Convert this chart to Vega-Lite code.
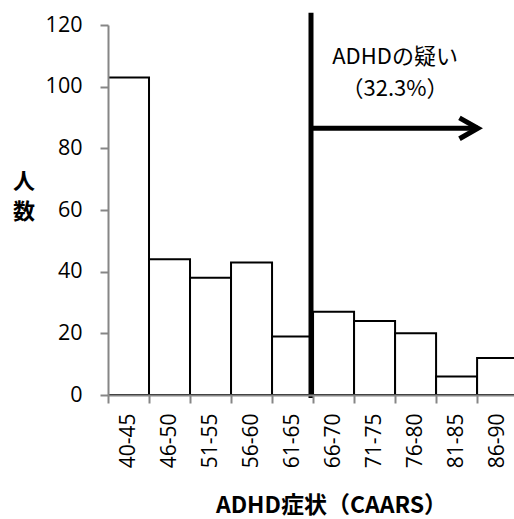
{
  "$schema": "https://vega.github.io/schema/vega-lite/v6.json",
  "width": 406,
  "height": 370,
  "autosize": "none",
  "padding": {"left": 108, "top": 25, "right": 0, "bottom": 124},
  "background": "white",
  "config": {"view": {"stroke": null}, "font": "Open Sans"},
  "datasets": {
    "bins": [
      {"bin": "40-45", "lo": 40.5, "hi": 45.5, "n": 103},
      {"bin": "46-50", "lo": 45.5, "hi": 50.5, "n": 44},
      {"bin": "51-55", "lo": 50.5, "hi": 55.5, "n": 38},
      {"bin": "56-60", "lo": 55.5, "hi": 60.5, "n": 43},
      {"bin": "61-65", "lo": 60.5, "hi": 65.5, "n": 19},
      {"bin": "66-70", "lo": 65.5, "hi": 70.5, "n": 27},
      {"bin": "71-75", "lo": 70.5, "hi": 75.5, "n": 24},
      {"bin": "76-80", "lo": 75.5, "hi": 80.5, "n": 20},
      {"bin": "81-85", "lo": 80.5, "hi": 85.5, "n": 6},
      {"bin": "86-90", "lo": 85.5, "hi": 90.5, "n": 12}
    ],
    "cutoff": [
      {"score": 65.25, "from": -1, "to": 124}
    ],
    "arrow": [
      {"part": "shaft", "k": 0, "score": 65.25, "level": 86.5},
      {"part": "shaft", "k": 1, "score": 85.6, "level": 86.5},
      {"part": "head", "k": 0, "score": 83.35, "level": 89.9},
      {"part": "head", "k": 1, "score": 85.6, "level": 86.5},
      {"part": "head", "k": 2, "score": 83.35, "level": 83.1}
    ],
    "notes": [
      {"text": "ADHDの疑い", "score": 75.5, "level": 109.5},
      {"text": "（32.3%）", "score": 75.5, "level": 99.3}
    ]
  },
  "layer": [
    {
      "data": {"name": "bins"},
      "mark": {"type": "rect", "fill": "white", "stroke": "black", "strokeWidth": 2, "clip": true},
      "encoding": {
        "x": {
          "field": "lo",
          "type": "quantitative",
          "scale": {"domain": [40.5, 90], "nice": false, "zero": false},
          "axis": {
            "values": [40.5, 45.5, 50.5, 55.5, 60.5, 65.5, 70.5, 75.5, 80.5, 85.5],
            "labelExpr": "datum.value < 41 ? '40-45' : (datum.value + 0.5) + '-' + (datum.value + 4.5)",
            "labelAngle": 270,
            "labelAlign": "right",
            "labelBaseline": "middle",
            "labelOffset": 20.5,
            "labelPadding": 10,
            "labelFlush": false,
            "labelOverlap": false,
            "labelFont": "Open Sans",
            "labelFontSize": 21,
            "labelColor": "black",
            "tickSize": 8,
            "tickWidth": 2,
            "tickColor": "#868686",
            "domainWidth": 2,
            "domainColor": "#868686",
            "grid": false,
            "title": "ADHD症状（CAARS）",
            "titleFont": "Noto Sans CJK JP",
            "titleFontSize": 23,
            "titleFontWeight": "bold",
            "titleColor": "black",
            "titleAlign": "center",
            "titleBaseline": "alphabetic",
            "titleX": 223,
            "titleY": 117,
            "zindex": 1
          }
        },
        "x2": {"field": "hi"},
        "y": {
          "field": "n",
          "type": "quantitative",
          "scale": {"domain": [0, 120], "nice": false},
          "axis": {
            "values": [0, 20, 40, 60, 80, 100, 120],
            "labelFont": "Open Sans",
            "labelFontSize": 21.5,
            "labelColor": "black",
            "labelPadding": 18,
            "tickSize": 8,
            "tickWidth": 2,
            "tickColor": "#868686",
            "domainWidth": 2,
            "domainColor": "#868686",
            "grid": false,
            "title": ["人", "数"],
            "titleFont": "Noto Sans CJK JP",
            "titleFontSize": 22,
            "titleFontWeight": "bold",
            "titleColor": "black",
            "titleAngle": 0,
            "titleAlign": "center",
            "titleBaseline": "middle",
            "titleLineHeight": 30,
            "titleX": -84.5,
            "titleY": 156,
            "zindex": 1
          }
        },
        "y2": {"datum": 0}
      }
    },
    {
      "data": {"name": "cutoff"},
      "mark": {"type": "rule", "color": "black", "strokeWidth": 5, "strokeCap": "butt"},
      "encoding": {
        "x": {"field": "score", "type": "quantitative"},
        "y": {"field": "from", "type": "quantitative"},
        "y2": {"field": "to"}
      }
    },
    {
      "data": {"name": "arrow"},
      "mark": {"type": "line", "color": "black", "strokeWidth": 5, "strokeCap": "butt", "strokeJoin": "miter"},
      "encoding": {
        "x": {"field": "score", "type": "quantitative"},
        "y": {"field": "level", "type": "quantitative"},
        "detail": {"field": "part"},
        "order": {"field": "k"}
      }
    },
    {
      "data": {"name": "notes"},
      "mark": {"type": "text", "font": "Noto Sans CJK JP", "fontSize": 22, "color": "black", "align": "center", "baseline": "middle"},
      "encoding": {
        "x": {"field": "score", "type": "quantitative"},
        "y": {"field": "level", "type": "quantitative"},
        "text": {"field": "text"}
      }
    }
  ]
}
